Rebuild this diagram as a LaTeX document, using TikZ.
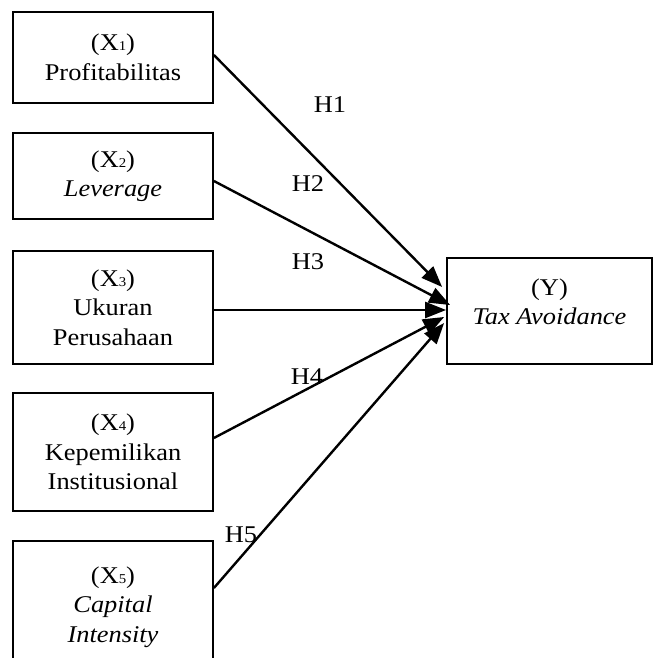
\documentclass[tikz,border=0pt]{standalone}
\usepackage{fontspec}
\setmainfont{Liberation Serif}[FakeStretch=1.1]
\usetikzlibrary{arrows.meta,calc}
\newcommand\subsz{\fontsize{13.5}{13.5}\selectfont}
\tikzset{
  varbox/.style={draw,line width=1.8pt,align=center,inner sep=0pt,
    font=\fontsize{24}{29.5}\selectfont},
  hyp/.style={font=\fontsize{24}{29.5}\selectfont,inner sep=0pt},
  conn/.style={line width=2.4pt,-{Triangle[length=21pt,width=16pt]}}
}
\begin{document}
\begin{tikzpicture}[x=1pt,y=-1pt]
\path[use as bounding box] (0,0) rectangle (656,658);
\clip (0,0) rectangle (656,658);
\node[varbox,minimum width=200,minimum height=91] (x1) at (113,57.5)
  {(X{\subsz 1})\\Profitabilitas};
\node[varbox,minimum width=200,minimum height=86] (x2) at (113,176)
  {(X{\subsz 2})\\\textit{Leverage}};
\node[varbox,minimum width=200,minimum height=113] (x3) at (113,307.5)
  {(X{\subsz 3})\\Ukuran\\Perusahaan};
\node[varbox,minimum width=200,minimum height=118] (x4) at (113,452)
  {(X{\subsz 4})\\Kepemilikan\\Institusional};
\node[varbox,minimum width=200,minimum height=132] (x5) at (113,607)
  {(X{\subsz 5})\\\textit{Capital}\\\textit{Intensity}};
\node[varbox,minimum width=205,minimum height=106,text depth=19pt] (y) at (549.5,311)
  {(Y)\\\textit{Tax Avoidance}};
\draw[conn] ($(x1.east)+(0,-2.5)$) -- ($(y.west)+(-4,-24)$);
\draw[conn] ($(x2.east)+(0,5)$) -- ($(y.west)+(4,-6)$);
\draw[conn] ($(x3.east)+(0,2.5)$) -- ($(y.west)+(0,-1)$);
\draw[conn] ($(x4.east)+(0,-14)$) -- ($(y.west)+(-2,6)$);
\draw[conn] ($(x5.east)+(0,-19)$) -- ($(y.west)+(-2,12)$);
\node[hyp] (h1) at (330,105) {H1};
\node[hyp] (h2) at (308,184) {H2};
\node[hyp] (h3) at (308,262) {H3};
\node[hyp] (h4) at (307,377) {H4};
\node[hyp] (h5) at (241,535) {H5};
\end{tikzpicture}
\end{document}
